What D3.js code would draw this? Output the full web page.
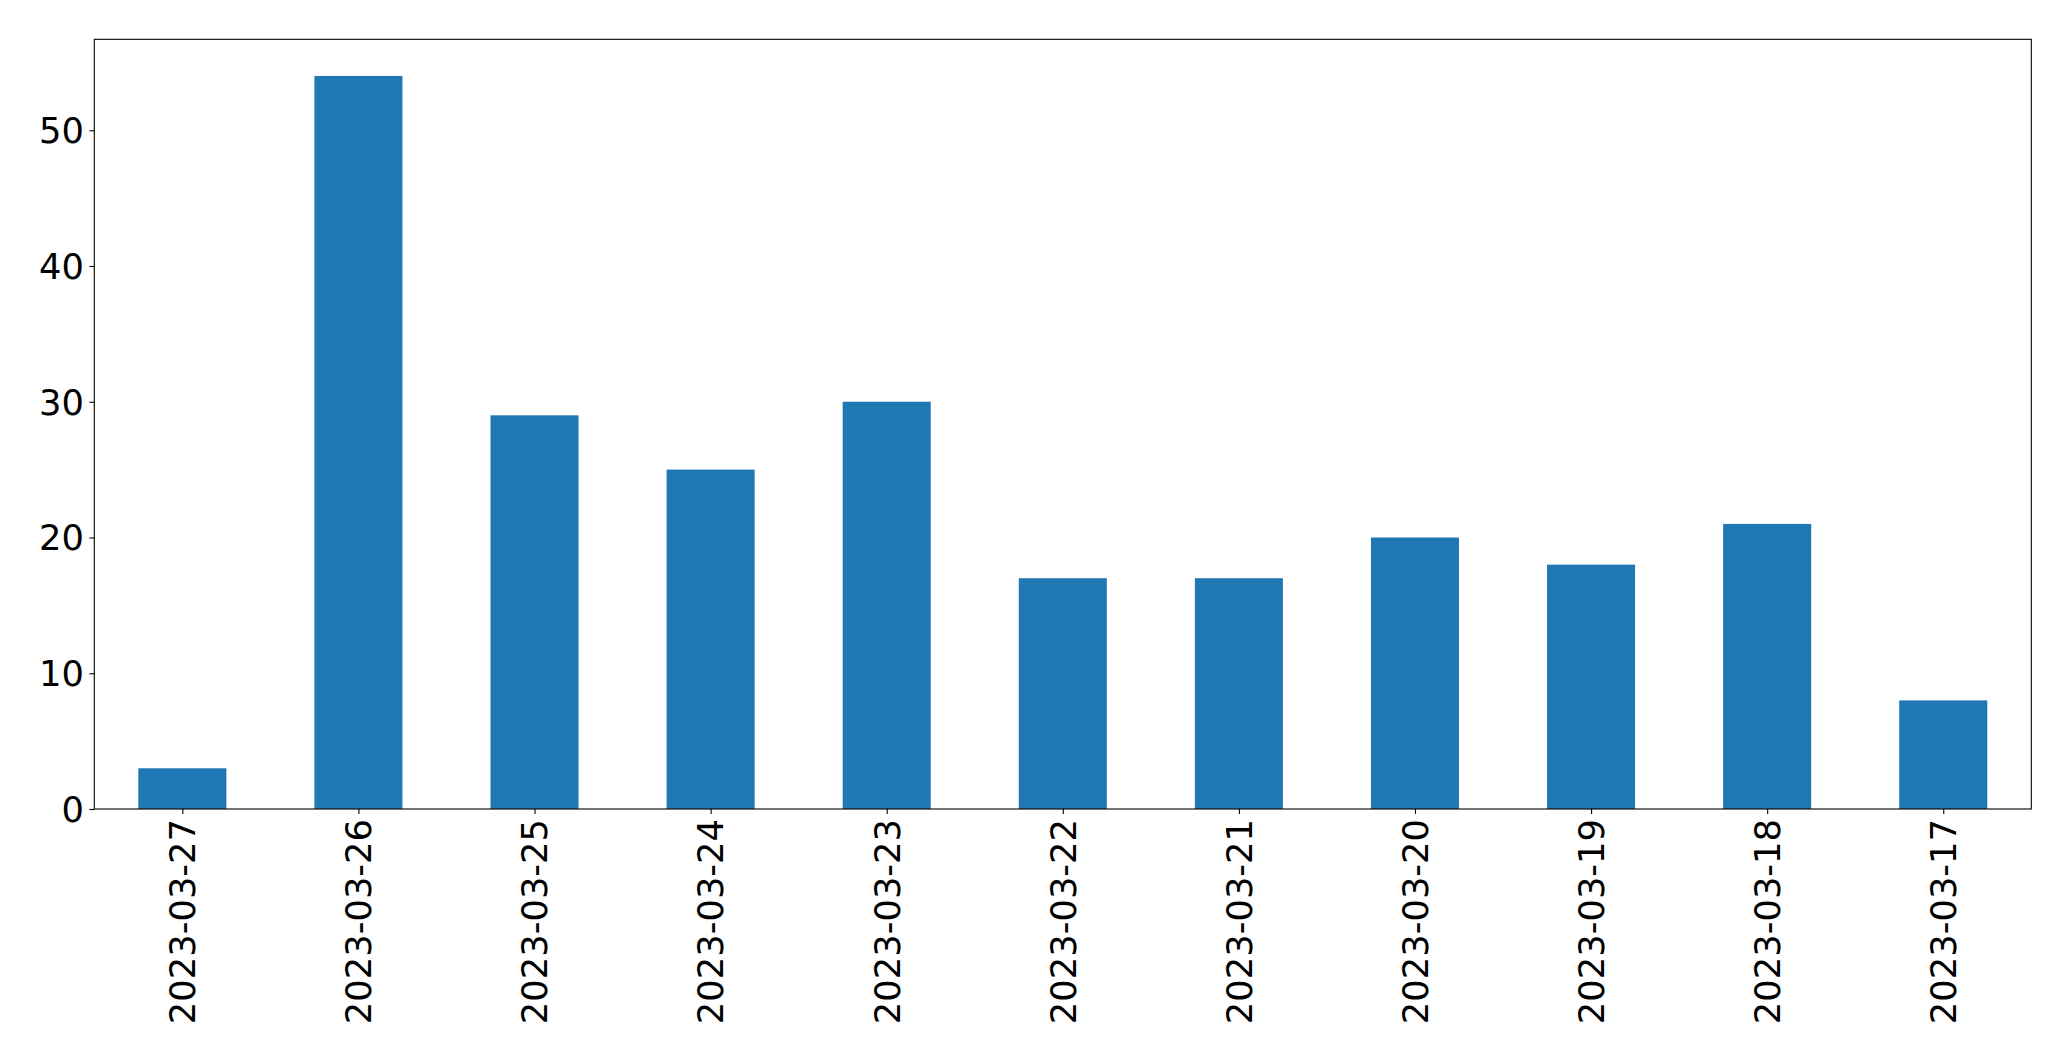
<!DOCTYPE html>
<html>
<head>
<meta charset="utf-8">
<script src="https://cdn.jsdelivr.net/npm/d3@7"></script>
<style>
  html, body { margin: 0; padding: 0; background: #fff; }
  svg { display: block; }
  text { font-family: "DejaVu Sans", sans-serif; fill: #000; }
</style>
</head>
<body>
<svg id="chart" width="2071" height="1061"></svg>
<script>
const categories = ["2023-03-27","2023-03-26","2023-03-25","2023-03-24","2023-03-23","2023-03-22","2023-03-21","2023-03-20","2023-03-19","2023-03-18","2023-03-17"];
const values = [3, 54, 29, 25, 30, 17, 17, 20, 18, 21, 8];
const yTicks = [0, 10, 20, 30, 40, 50];

const W = 2071, H = 1061;
const m = { left: 94.3, right: 2031.3, top: 39.3, bottom: 809 };
const fontSize = 35.3;
const svg = d3.select("#chart");

const x = d3.scaleLinear().domain([-0.5, categories.length - 0.5]).range([m.left, m.right]);
const yMax = d3.max(values) * 1.05;
const y = d3.scaleLinear().domain([0, yMax]).range([m.bottom, m.top]);
const barW = 0.5;

svg.append("g").selectAll("rect").data(values).join("rect")
  .attr("x", (d, i) => x(i - barW / 2))
  .attr("width", (d, i) => x(i + barW / 2) - x(i - barW / 2))
  .attr("y", d => y(d))
  .attr("height", d => y(0) - y(d))
  .attr("fill", "#1f77b4");

// Y axis
const yAxis = d3.axisLeft(y).tickValues(yTicks).tickFormat(d3.format("d")).tickSize(4.9).tickPadding(5.5);
const gy = svg.append("g").attr("transform", `translate(${m.left},0)`).call(yAxis);
gy.select(".domain").remove();
gy.selectAll(".tick line").attr("stroke", "#000").attr("stroke-width", 1.1);
gy.selectAll(".tick text").attr("font-size", fontSize).attr("font-family", "DejaVu Sans").attr("dy", "0.35em");

// X axis
const xAxis = d3.axisBottom(x).tickValues(d3.range(categories.length)).tickFormat(i => categories[i]).tickSize(4.9);
const gx = svg.append("g").attr("transform", `translate(0,${m.bottom})`).call(xAxis);
gx.select(".domain").remove();
gx.selectAll(".tick line").attr("stroke", "#000").attr("stroke-width", 1.1);
gx.selectAll(".tick text")
  .attr("font-size", fontSize)
  .attr("font-family", "DejaVu Sans")
  .attr("text-anchor", "end")
  .attr("transform", "translate(0,10) rotate(-90)")
  .attr("x", 0).attr("y", 0)
  .attr("dy", "0.35em");

// Frame
svg.append("rect")
  .attr("x", m.left).attr("y", m.top)
  .attr("width", m.right - m.left).attr("height", m.bottom - m.top)
  .attr("fill", "none").attr("stroke", "#000").attr("stroke-width", 1.1);
</script>
</body>
</html>
